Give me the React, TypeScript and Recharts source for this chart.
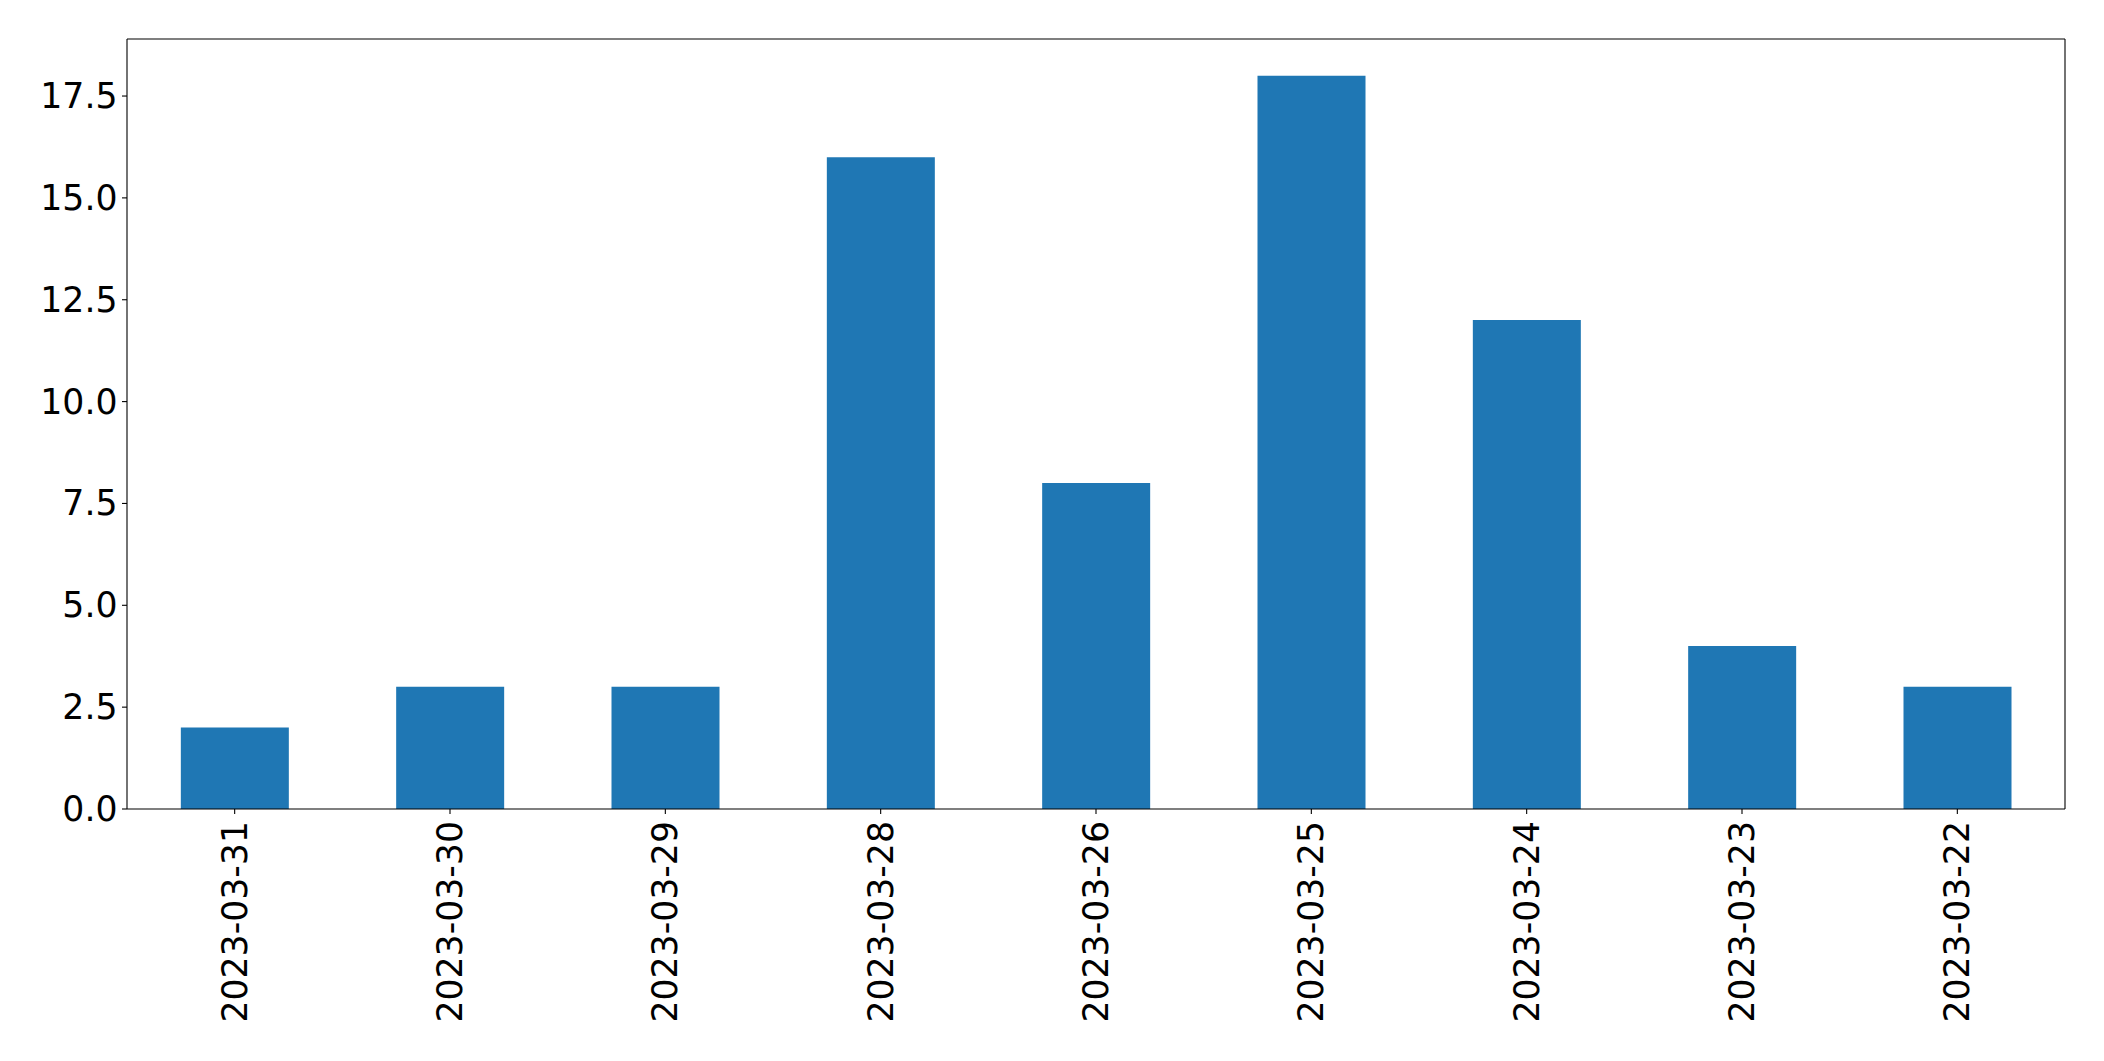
import React from "react";
import { BarChart, Bar, XAxis, YAxis } from "recharts";

const categories = [
  "2023-03-31",
  "2023-03-30",
  "2023-03-29",
  "2023-03-28",
  "2023-03-26",
  "2023-03-25",
  "2023-03-24",
  "2023-03-23",
  "2023-03-22",
];
const counts = [2, 3, 3, 16, 8, 18, 12, 4, 3];
const yTicks = [0, 2.5, 5, 7.5, 10, 12.5, 15, 17.5];
const yMax = 18.9;

const data = categories.map((c, i) => ({ date: c, count: counts[i] }));

const FONT = "DejaVu Sans";
const FS = 34.7;

const XTick = (props: any) => {
  const { x, y, payload } = props;
  return (
    <g transform={`translate(${x},${y + 5})`}>
      <text
        transform="rotate(-90)"
        x={0}
        y={0}
        textAnchor="end"
        dominantBaseline="central"
        fontFamily={FONT}
        fontSize={FS}
        fill="#000"
      >
        {payload.value}
      </text>
    </g>
  );
};

const YTick = (props: any) => {
  const { x, y, payload } = props;
  return (
    <text
      x={x - 2.5}
      y={y}
      textAnchor="end"
      dominantBaseline="central"
      fontFamily={FONT}
      fontSize={FS}
      fill="#000"
    >
      {Number(payload.value).toFixed(1)}
    </text>
  );
};

const line = { stroke: "#000", strokeWidth: 1.1 };

export default function App() {
  return (
    <div style={{ position: "absolute", left: 0, top: 0, width: 2104, height: 1061, background: "#fff" }}>
      <BarChart
        width={2104}
        height={1061}
        data={data}
        margin={{ top: 38, right: 38, bottom: 0, left: 0 }}
        barCategoryGap="25%"
      >
        <XAxis
          dataKey="date"
          xAxisId={0}
          interval={0}
          height={252}
          tick={<XTick />}
          tickLine={line}
          tickSize={5}
          axisLine={line}
        />
        <XAxis
          dataKey="date"
          xAxisId="top"
          orientation="top"
          height={1}
          tick={false}
          tickLine={false}
          axisLine={line}
        />
        <YAxis
          yAxisId={0}
          width={127}
          domain={[0, yMax]}
          ticks={yTicks}
          tick={<YTick />}
          tickLine={line}
          tickSize={5}
          axisLine={line}
        />
        <YAxis
          yAxisId="right"
          orientation="right"
          width={1}
          domain={[0, yMax]}
          tick={false}
          tickLine={false}
          axisLine={line}
        />
        <Bar dataKey="count" fill="#1f77b4" isAnimationActive={false} xAxisId={0} yAxisId={0} />
      </BarChart>
    </div>
  );
}
